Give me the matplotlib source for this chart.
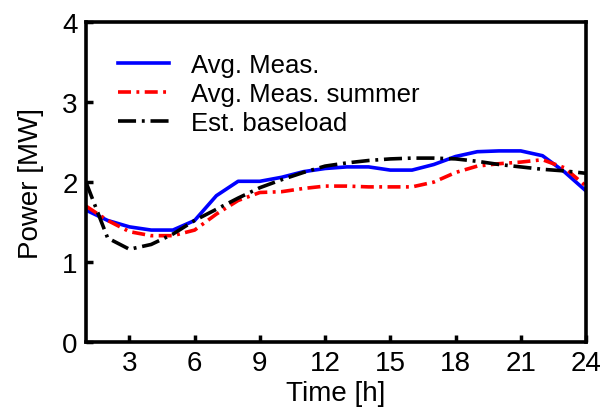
import numpy as np
import matplotlib
matplotlib.use('Agg')
import matplotlib.pyplot as plt

plt.rcParams['font.family'] = ['Liberation Sans', 'DejaVu Sans']

# hourly profiles [MW]
horas = list(range(1, 25))
medido = [1.65, 1.52, 1.44, 1.40, 1.40, 1.52, 1.83, 2.01, 2.01, 2.06, 2.13, 2.17,
          2.19, 2.19, 2.15, 2.15, 2.22, 2.32, 2.38, 2.39, 2.39, 2.33, 2.13, 1.89]
medido_verano = [1.70, 1.52, 1.38, 1.33, 1.33, 1.40, 1.60, 1.77, 1.87, 1.88, 1.92, 1.95,
                 1.95, 1.94, 1.94, 1.94, 2.00, 2.12, 2.20, 2.23, 2.25, 2.28, 2.18, 1.95]
carga_base = [2.00, 1.30, 1.16, 1.22, 1.35, 1.52, 1.66, 1.80, 1.93, 2.03, 2.12, 2.20,
              2.24, 2.27, 2.29, 2.30, 2.30, 2.29, 2.26, 2.22, 2.19, 2.16, 2.14, 2.11]

fig = plt.figure(figsize=(6.01, 4.14), dpi=100)
ax = fig.add_axes([0.143, 0.1715, 0.832, 0.7725])

ax.plot(horas, medido, color='#0000ff', lw=2.6, label='Avg. Meas.')
ax.plot(horas, medido_verano, color='#ff0000', lw=2.6, dashes=(3.6, 1.5, 0.8, 1.5),
        label='Avg. Meas. summer')
ax.plot(horas, carga_base, color='black', lw=2.6, dashes=(5, 1.6, 0.8, 1.6),
        label='Est. baseload')

ax.set_xlim(1, 24)
ax.set_ylim(0, 4)
ax.set_xticks([3, 6, 9, 12, 15, 18, 21, 24])
ax.set_yticks([0, 1, 2, 3, 4])
ax.tick_params(direction='in', length=5, width=2.5, labelsize=20, pad=6)
for s in ax.spines.values():
    s.set_linewidth(2.6)

ax.set_xlabel('Time [h]', fontsize=20, labelpad=3)
ax.set_ylabel('Power [MW]', fontsize=20, labelpad=13)

ax.legend(loc='upper left', frameon=False, fontsize=18.5, handlelength=2.0,
          bbox_to_anchor=(0.064, 0.905), borderaxespad=0, borderpad=0,
          labelspacing=0.2, handletextpad=0.85)

fig.savefig('out.png', dpi=100)
